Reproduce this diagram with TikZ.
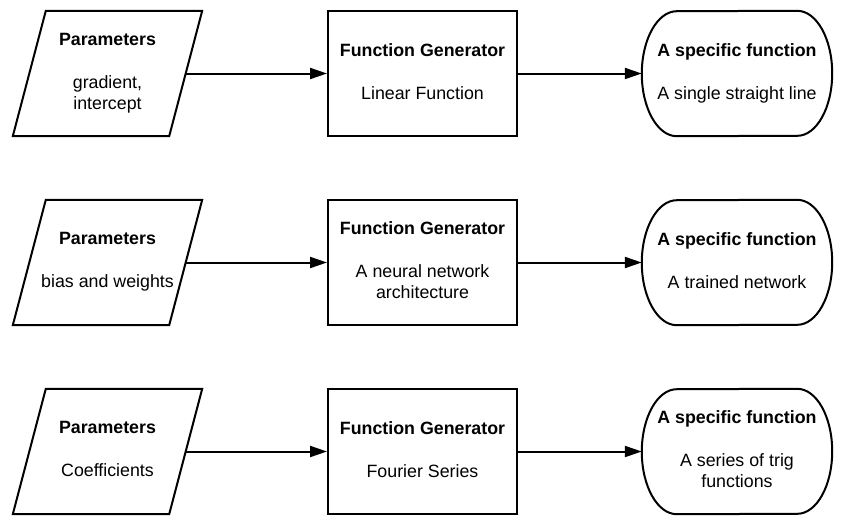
\documentclass[tikz,border=0pt]{standalone}
\usepackage{fontspec}
\setmainfont{Liberation Sans}
\usetikzlibrary{calc,arrows.meta}
\tikzset{
  outline/.style={draw=black,line width=2pt,line join=miter},
  holder/.style={rectangle,inner sep=0pt,minimum height=125pt,align=center,
    text depth=4.5pt,font=\fontsize{17.8}{21.5}\selectfont},
  parbox/.style={holder,minimum width=156pt},
  genbox/.style={holder,outline,minimum width=189pt},
  funbox/.style={holder,minimum width=190pt},
  conn/.style={line width=2pt,-{Triangle[length=17pt,width=11pt]}}
}
\newcommand{\para}[1]{\draw[outline] ($(#1.south west)+(-16.5,0)$) -- ($(#1.north west)+(16.5,0)$) -- ($(#1.north east)+(16.5,0)$) -- ($(#1.south east)+(-16.5,0)$) -- cycle;}
\newcommand{\stad}[1]{\draw[outline] ($(#1.north east)+(-35,0)$) arc[start angle=90,end angle=-90,x radius=35,y radius=62.5] -- ($(#1.south west)+(35,0)$) arc[start angle=270,end angle=90,x radius=35,y radius=62.5] -- cycle;}
\begin{document}
\begin{tikzpicture}[x=1pt,y=1pt]
\useasboundingbox (0,0) rectangle (844,-528);
% row 1
\node[parbox] (p1) at (107.5,-73.5) {\textbf{Parameters}\\[21.5pt]gradient,\\intercept};
\node[genbox] (g1) at (422.5,-73.5) {\textbf{Function Generator}\\[21.5pt]Linear Function};
\node[funbox] (f1) at (737,-73.5) {\textbf{A specific function}\\[21.5pt]A single straight line};
% row 2
\node[parbox] (p2) at (107.5,-262.5) {\textbf{Parameters}\\[21.5pt]bias and weights};
\node[genbox] (g2) at (422.5,-262.5) {\textbf{Function Generator}\\[21.5pt]A neural network\\architecture};
\node[funbox] (f2) at (737,-262.5) {\textbf{A specific function}\\[21.5pt]A trained network};
% row 3
\node[parbox] (p3) at (107.5,-451.5) {\textbf{Parameters}\\[21.5pt]Coefficients};
\node[genbox] (g3) at (422.5,-451.5) {\textbf{Function Generator}\\[21.5pt]Fourier Series};
\node[funbox] (f3) at (737,-451.5) {\textbf{A specific function}\\[21.5pt]A series of trig\\functions};
\para{p1}\para{p2}\para{p3}
\stad{f1}\stad{f2}\stad{f3}
\foreach \i in {1,2,3}{
  \draw[conn] (p\i.east) -- (g\i.west);
  \draw[conn] (g\i.east) -- (f\i.west);
}
\end{tikzpicture}
\end{document}
